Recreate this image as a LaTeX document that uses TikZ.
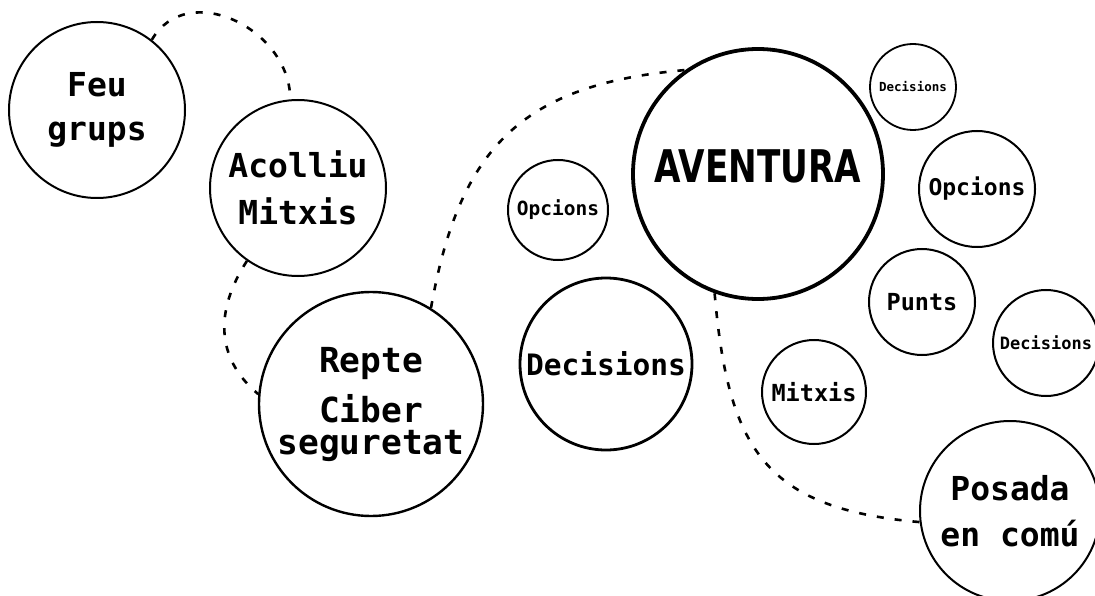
\documentclass[tikz,border=0pt]{standalone}
\usepackage{fontspec}
\setmonofont{DejaVu Sans Mono}
\newfontfamily\titlefont{DejaVu Sans}
\usepackage{graphicx}

\begin{document}
\begin{tikzpicture}[x=1pt, y=-1pt,
  bubble/.style={circle, draw, line width=2pt, fill=white, inner sep=0pt, align=center},
  fs/.style 2 args={font=\ttfamily\bfseries\fontsize{#1}{#2}\selectfont},
  link/.style={line width=2.6pt, dash pattern=on 7pt off 11pt}]
\useasboundingbox (0,0) rectangle (1095,596);
% left chain
\node[bubble, minimum size=176pt, fs={33}{44}] (feu) at (97,110) {Feu\\grups};
\node[bubble, minimum size=176pt, fs={33}{47}] (acolliu) at (298,188) {Acolliu\\Mitxis};
\node[bubble, minimum size=224pt, line width=2.4pt, fs={34.5}{50}] (repte) at (371,404) {Repte\\Ciber\\[-18pt]seguretat};
% aventura and its bubbles
\node[bubble, minimum size=250pt, line width=3.8pt, text depth=16pt,
  font=\titlefont\bfseries\fontsize{45}{54}\selectfont] (aventura) at (758,174) {\scalebox{0.76}[1]{AVENTURA}};
\node[bubble, minimum size=100pt, fs={19.5}{24}] (opcA) at (558,210) {Opcions};
\node[bubble, minimum size=172pt, line width=2.8pt, fs={29.5}{36}] (decA) at (606,364) {Decisions};
\node[bubble, minimum size=86pt, line width=1.8pt, fs={12.5}{15}] (decB) at (913,87) {Decisions};
\node[bubble, minimum size=116pt, fs={23}{28}] (opcB) at (977,189) {Opcions};
\node[bubble, minimum size=106pt, fs={23.5}{28}] (punts) at (922,302) {Punts};
\node[bubble, minimum size=106pt, fs={17}{20}] (decC) at (1046,343) {Decisions};
\node[bubble, minimum size=104pt, fs={23.5}{28}] (mitxis) at (814,392) {Mitxis};
\node[bubble, minimum size=180pt, fs={33}{46}] (posada) at (1010,511) {Posada\\en comú};
% dashed links
\draw[link] (feu.52) to[out=60, in=90, looseness=1.2] (acolliu.95);
\draw[link] (acolliu.235) to[out=237, in=140, looseness=1.1] (repte.175);
\draw[link] (repte.58) to[out=80, in=185, looseness=1.2] (aventura.125);
\draw[link] (aventura.250) to[out=-85, in=175, looseness=1.3] (posada.187);
\end{tikzpicture}
\end{document}
